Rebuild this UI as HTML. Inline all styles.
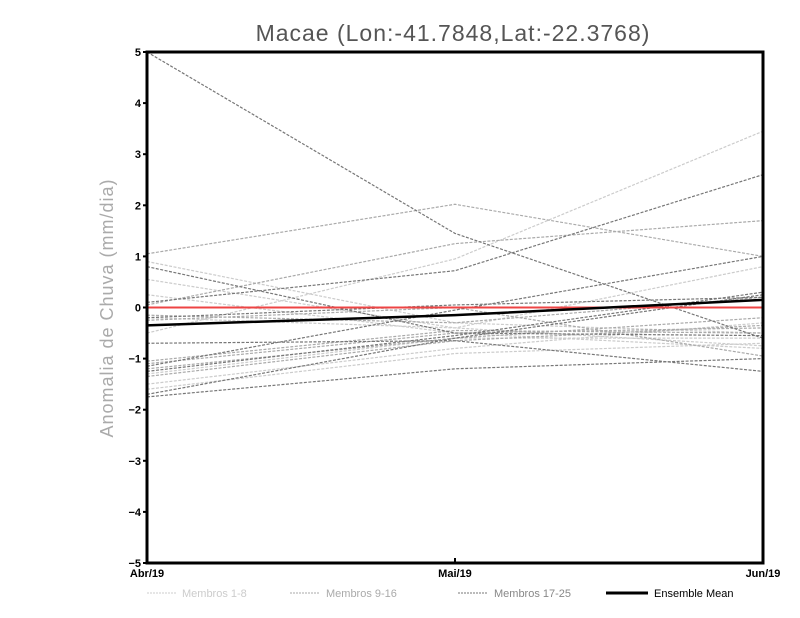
<!DOCTYPE html>
<html><head><meta charset="utf-8"><style>body{margin:0;background:#fff}svg{display:block}</style></head>
<body>
<svg id="chart" width="800" height="618" xmlns="http://www.w3.org/2000/svg" font-family="Liberation Sans, sans-serif">
<text x="453" y="41" text-anchor="middle" font-size="23" fill="#555" letter-spacing="1">Macae (Lon:-41.7848,Lat:-22.3768)</text>
<text transform="translate(113,308) rotate(-90)" text-anchor="middle" font-size="18" fill="#aaa" letter-spacing="1">Anomalia de Chuva (mm/dia)</text>
<g id="marks"></g>
<rect x="147" y="52" width="616" height="511" fill="none" stroke="#000" stroke-width="3"/>
<g id="axes"></g>
<g font-size="11">
<line x1="147" y1="593" x2="177" y2="593" stroke="#ccc" stroke-dasharray="2,1"/>
<text x="182" y="597" fill="#ccc">Membros 1-8</text>
<line x1="290" y1="593" x2="320" y2="593" stroke="#aaa" stroke-dasharray="2,1"/>
<text x="326" y="597" fill="#aaa">Membros 9-16</text>
<line x1="458" y1="593" x2="488" y2="593" stroke="#777" stroke-dasharray="2,1"/>
<text x="494" y="597" fill="#888">Membros 17-25</text>
<line x1="606" y1="593" x2="648" y2="593" stroke="#000" stroke-width="3"/>
<text x="654" y="597" fill="#000">Ensemble Mean</text>
</g>
</svg>
<script>
const categories = ["Abr/19","Mai/19","Jun/19"];
const yTicks = [-5,-4,-3,-2,-1,0,1,2,3,4,5];
const members1to8 = [[0.9,-0.3,-0.5],[-0.5,0.95,3.45],[0.55,-0.4,0.8],[-1.6,-0.9,-0.7],[-1.5,-0.8,-0.3],[0.25,-0.5,-0.8],[-1.3,-0.6,-0.6],[-0.2,-0.4,-0.75]];
const members9to16 = [[1.05,2.02,1.0],[0.05,1.25,1.7],[-1.1,-0.5,-0.4],[-1.2,-0.6,-0.2],[-0.15,-0.3,0.2],[-1.35,-0.65,-0.35],[-1.05,-0.45,-0.5],[-0.25,0.0,-0.95]];
const members17to25 = [[5.0,1.45,-0.6],[0.1,0.72,2.6],[0.8,-0.5,-0.55],[-1.7,-0.6,0.25],[-1.75,-1.2,-1.0],[-0.7,-0.65,-1.25],[-1.15,-0.05,1.0],[-1.25,-0.55,0.3],[-0.2,0.05,0.2]];
const ensembleMean = [-0.35,-0.15,0.15];
const referenceLine = [0,0,0];
const NS="http://www.w3.org/2000/svg";
const x0=147,x1=763,y0=52,y1=563;
const xs=i=>x0+(x1-x0)*i/(categories.length-1);
const ys=v=>y1-(v+5)/10*(y1-y0);
const marks=document.getElementById('marks'), axes=document.getElementById('axes');
function line(vals,color,w,dash,name){
  const p=document.createElementNS(NS,'polyline');
  
  
  p.setAttribute('points',vals.map((v,i)=>xs(i)+','+ys(v)).join(' '));
  p.setAttribute('fill','none');p.setAttribute('stroke',color);p.setAttribute('stroke-width',w);
  if(dash)p.setAttribute('stroke-dasharray',dash);
  marks.appendChild(p);
}
members1to8.forEach(s=>line(s,'#ccc',1.2,'3,1.5','member-line-1-8'));
members9to16.forEach(s=>line(s,'#aaa',1.2,'3,1.5','member-line-9-16'));
members17to25.forEach(s=>line(s,'#777',1.2,'3,1.5','member-line-17-25'));
line(referenceLine,'#e44',2,null,'zero-line');
line(ensembleMean,'#000',2.5,null,'ensemble-mean-line');
yTicks.forEach(t=>{
  const y=ys(t);
  const l=document.createElementNS(NS,'line');
  
  
  l.setAttribute('x1',x0-4);l.setAttribute('x2',x0);l.setAttribute('y1',y);l.setAttribute('y2',y);l.setAttribute('stroke','#000');l.setAttribute('stroke-width',2);
  axes.appendChild(l);
  const tx=document.createElementNS(NS,'text');
  
  
  tx.setAttribute('x',x0-6);tx.setAttribute('y',y+4);tx.setAttribute('text-anchor','end');
  tx.setAttribute('font-size','11');tx.setAttribute('font-weight','bold');
  tx.textContent=t<0?'\u2212'+(-t):t;
  axes.appendChild(tx);
});
categories.forEach((c,i)=>{
  const tx=document.createElementNS(NS,'text');
  
  
  tx.setAttribute('x',xs(i));tx.setAttribute('y',577);tx.setAttribute('text-anchor','middle');
  tx.setAttribute('font-size','11');tx.setAttribute('font-weight','bold');
  tx.textContent=c;
  axes.appendChild(tx);
  const l=document.createElementNS(NS,'line');
  
  
  l.setAttribute('x1',xs(i));l.setAttribute('x2',xs(i));l.setAttribute('y1',y1);l.setAttribute('y2',y1-5);l.setAttribute('stroke','#000');l.setAttribute('stroke-width',2);
  axes.appendChild(l);
});
</script>
</body></html>
